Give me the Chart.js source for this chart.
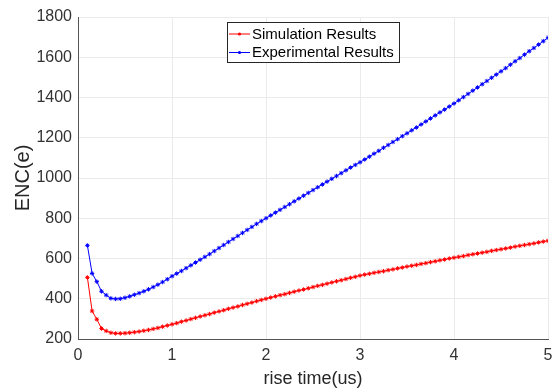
<!DOCTYPE html>
<html>
<head>
<meta charset="utf-8">
<script src="https://cdn.jsdelivr.net/npm/chart.js@4.4.0/dist/chart.umd.min.js"></script>
<style>
  html, body { margin: 0; padding: 0; background: #fff; }
  #wrap { width: 553px; height: 391px; }
</style>
</head>
<body>
<div id="wrap"><canvas id="encChart" width="553" height="391"></canvas></div>
<script>
/* rise time (us) */
var riseTime = [0.10, 0.15, 0.20, 0.25, 0.30, 0.35, 0.40, 0.45, 0.50, 0.55,
	0.60, 0.65, 0.70, 0.75, 0.80, 0.85, 0.90, 0.95, 1.00, 1.05,
	1.10, 1.15, 1.20, 1.25, 1.30, 1.35, 1.40, 1.45, 1.50, 1.55,
	1.60, 1.65, 1.70, 1.75, 1.80, 1.85, 1.90, 1.95, 2.00, 2.05,
	2.10, 2.15, 2.20, 2.25, 2.30, 2.35, 2.40, 2.45, 2.50, 2.55,
	2.60, 2.65, 2.70, 2.75, 2.80, 2.85, 2.90, 2.95, 3.00, 3.05,
	3.10, 3.15, 3.20, 3.25, 3.30, 3.35, 3.40, 3.45, 3.50, 3.55,
	3.60, 3.65, 3.70, 3.75, 3.80, 3.85, 3.90, 3.95, 4.00, 4.05,
	4.10, 4.15, 4.20, 4.25, 4.30, 4.35, 4.40, 4.45, 4.50, 4.55,
	4.60, 4.65, 4.70, 4.75, 4.80, 4.85, 4.90, 4.95, 5.00];

/* ENC (e) */
var simulationEnc = [506, 339, 298, 252, 240, 231, 228, 228, 229, 231,
	234, 237, 241, 245, 250, 255, 261, 267, 273, 279,
	286, 292, 299, 305, 312, 318, 324, 331, 337, 343,
	350, 356, 362, 369, 375, 381, 388, 394, 400, 406,
	412, 418, 423, 429, 435, 441, 446, 452, 458, 464,
	469, 475, 481, 487, 492, 498, 504, 509, 515, 520,
	524, 529, 533, 537, 542, 546, 551, 555, 560, 564,
	568, 573, 577, 582, 586, 591, 595, 600, 604, 608,
	612, 617, 621, 625, 629, 633, 638, 642, 646, 650,
	654, 659, 663, 667, 671, 675, 680, 684, 688];

var experimentalEnc = [665, 526, 485, 437, 418, 402, 399, 400, 405, 412,
	420, 428, 437, 447, 458, 470, 483, 497, 512, 525,
	538, 552, 566, 580, 594, 608, 622, 637, 652, 667,
	682, 697, 712, 727, 742, 757, 772, 786, 800, 814,
	828, 842, 856, 870, 884, 898, 912, 926, 940, 954,
	968, 982, 996, 1010, 1024, 1038, 1052, 1065, 1078, 1092,
	1106, 1121, 1135, 1150, 1164, 1179, 1193, 1208, 1222, 1237,
	1251, 1266, 1281, 1296, 1311, 1326, 1340, 1355, 1370, 1386,
	1402, 1418, 1434, 1450, 1466, 1482, 1498, 1514, 1530, 1546,
	1563, 1580, 1596, 1613, 1630, 1646, 1663, 1680, 1697];

var seriesNames = ['Simulation Results', 'Experimental Results'];
var seriesColours = ['#ff0000', '#0000ff'];

var xTicks = [0, 1, 2, 3, 4, 5];
var yTicks = [200, 400, 600, 800, 1000, 1200, 1400, 1600, 1800];

var FONT = '"Liberation Sans", Arial, Helvetica, sans-serif';

function toPoints(xs, ys) {
	var out = [];
	for (var i = 0; i < xs.length; i++) out.push({ x: xs[i], y: ys[i] });
	return out;
}

function makeSet(label, colour, values) {
	return {
		label: label,
		data: toPoints(riseTime, values),
		borderColor: colour,
		backgroundColor: colour,
		borderWidth: 1,
		pointStyle: 'star',
		pointRadius: 2.2,
		pointBorderWidth: 1,
		pointBorderColor: colour,
		pointBackgroundColor: colour,
		tension: 0
	};
}

/* boxed legend, drawn inside the plot like matlab does */
var boxLegend = {
	id: 'boxLegend',
	afterDraw: function(chart) {
		var ctx = chart.ctx;
		var area = chart.chartArea;
		var left = area.left + 149, top = area.top + 5;
		var w = 172, h = 40;
		ctx.save();
		ctx.fillStyle = '#fff';
		ctx.fillRect(left, top, w, h);
		ctx.strokeStyle = '#262626';
		ctx.lineWidth = 1;
		ctx.strokeRect(left + 0.5, top + 0.5, w, h);
		ctx.font = '15px ' + FONT;
		ctx.textBaseline = 'middle';
		chart.data.datasets.forEach(function(ds, i) {
			var cy = top + 12 + i * 18.5;
			ctx.strokeStyle = ds.borderColor;
			ctx.lineWidth = 1;
			ctx.beginPath();
			ctx.moveTo(left + 2, cy);
			ctx.lineTo(left + 23, cy);
			ctx.stroke();
			ctx.fillStyle = ds.borderColor;
			ctx.beginPath();
			ctx.arc(left + 12.5, cy, 1.6, 0, Math.PI * 2);
			ctx.fill();
			ctx.fillStyle = '#000';
			ctx.fillText(ds.label, left + 25, cy + 0.5);
		});
		ctx.restore();
	}
};

var ctx = document.getElementById('encChart');

var encChart = new Chart(ctx, {
	type: 'line',
	data: {
		datasets: [
			makeSet(seriesNames[0], seriesColours[0], simulationEnc),
			makeSet(seriesNames[1], seriesColours[1], experimentalEnc)
		]
	},
	plugins: [boxLegend],
	options: {
		responsive: false,
		animation: false,
		layout: { padding: { left: 0, right: 5, top: 17, bottom: 0 } },
		plugins: {
			legend: { display: false },
			tooltip: { enabled: false }
		},
		scales: {
			x: {
				type: 'linear',
				min: 0,
				max: 5,
				afterBuildTicks: function(scale) {
					scale.ticks = xTicks.map(function(v) { return { value: v }; });
				},
				afterFit: function(scale) {
					scale.height = 52;
					scale.paddingLeft = 0;
					scale.paddingRight = 0;
				},
				grid: { color: '#ebebeb', drawTicks: false },
				border: { display: true, color: '#555', width: 1 },
				ticks: {
					padding: 7,
					color: '#333',
					font: { family: FONT, size: 16 },
					maxRotation: 0,
					callback: function(v) { return String(v); }
				},
				title: {
					display: true,
					text: 'rise time(us)',
					color: '#262626',
					font: { family: FONT, size: 18 },
					padding: { top: 0, bottom: 1 }
				}
			},
			y: {
				type: 'linear',
				min: 200,
				max: 1800,
				afterBuildTicks: function(scale) {
					scale.ticks = yTicks.map(function(v) { return { value: v }; });
				},
				afterFit: function(scale) {
					scale.width = 78;
					scale.paddingTop = 0;
					scale.paddingBottom = 0;
				},
				grid: { color: '#ebebeb', drawTicks: false },
				border: { display: true, color: '#555', width: 1 },
				ticks: {
					padding: 6,
					color: '#333',
					font: { family: FONT, size: 16 },
					callback: function(v) { return String(v); }
				},
				title: {
					display: true,
					text: 'ENC(e)',
					color: '#262626',
					font: { family: FONT, size: 20 },
					padding: { top: 11, bottom: 0 }
				}
			}
		}
	}
});
</script>
</body>
</html>
